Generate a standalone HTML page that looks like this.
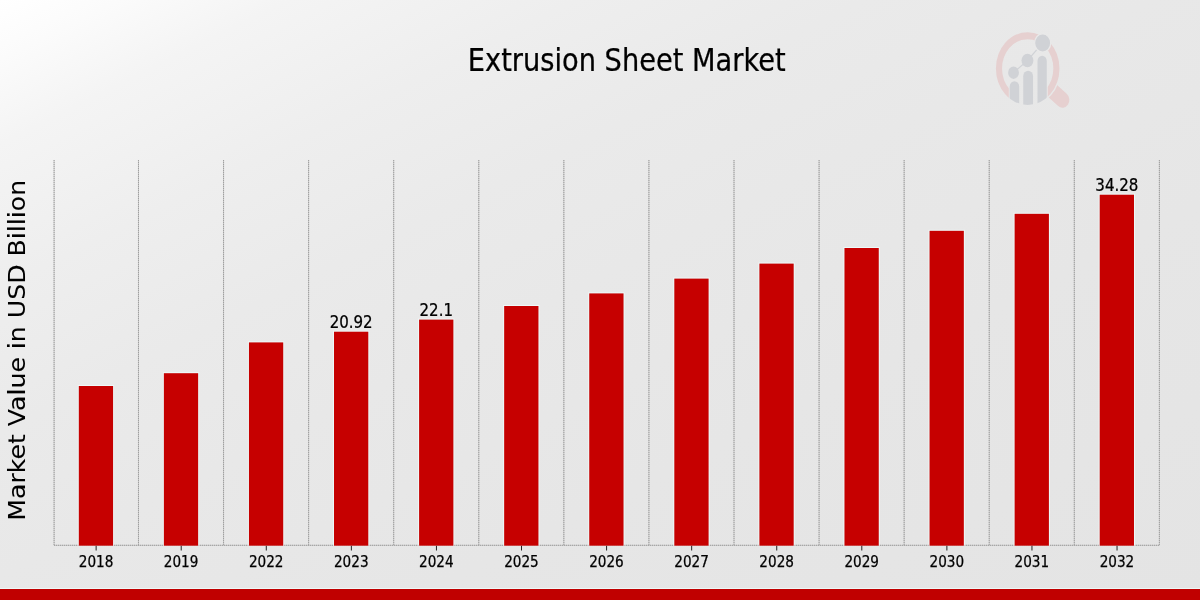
<!DOCTYPE html>
<html><head><meta charset="utf-8"><title>Extrusion Sheet Market</title>
<style>
html,body{margin:0;padding:0;}
body{width:1200px;height:600px;overflow:hidden;background:#e8e8e8;}
svg{display:block;}
text{font-family:"DejaVu Sans Condensed","DejaVu Sans","Liberation Sans",sans-serif;fill:#000;stroke:#000;stroke-width:0.25px;}
.yl{font-family:"DejaVu Sans","Liberation Sans",sans-serif;stroke-width:0.05px;}
</style></head><body>
<svg width="1200" height="600" viewBox="0 0 1200 600">
<defs>
<linearGradient id="bg" x1="0" y1="0" x2="1" y2="1">
<stop offset="0" stop-color="#ffffff"/>
<stop offset="0.05" stop-color="#fbfbfb"/>
<stop offset="0.12" stop-color="#f4f4f4"/>
<stop offset="0.24" stop-color="#eeeeee"/>
<stop offset="0.36" stop-color="#eaeaea"/>
<stop offset="0.48" stop-color="#e8e8e8"/>
<stop offset="0.67" stop-color="#e6e6e6"/>
<stop offset="1" stop-color="#e4e4e4"/>
</linearGradient>
</defs>
<rect x="0" y="0" width="1200" height="600" fill="url(#bg)"/>

<line x1="54.10" y1="160" x2="54.10" y2="545.3" stroke="#c4c4c4" stroke-width="1"/>
<line x1="54.10" y1="160" x2="54.10" y2="545.3" stroke="#9e9e9e" stroke-width="1" stroke-dasharray="1 1"/>
<line x1="138.47" y1="160" x2="138.47" y2="545.3" stroke="#c4c4c4" stroke-width="1"/>
<line x1="138.47" y1="160" x2="138.47" y2="545.3" stroke="#9e9e9e" stroke-width="1" stroke-dasharray="1 1"/>
<line x1="223.55" y1="160" x2="223.55" y2="545.3" stroke="#c4c4c4" stroke-width="1"/>
<line x1="223.55" y1="160" x2="223.55" y2="545.3" stroke="#9e9e9e" stroke-width="1" stroke-dasharray="1 1"/>
<line x1="308.62" y1="160" x2="308.62" y2="545.3" stroke="#c4c4c4" stroke-width="1"/>
<line x1="308.62" y1="160" x2="308.62" y2="545.3" stroke="#9e9e9e" stroke-width="1" stroke-dasharray="1 1"/>
<line x1="393.70" y1="160" x2="393.70" y2="545.3" stroke="#c4c4c4" stroke-width="1"/>
<line x1="393.70" y1="160" x2="393.70" y2="545.3" stroke="#9e9e9e" stroke-width="1" stroke-dasharray="1 1"/>
<line x1="478.77" y1="160" x2="478.77" y2="545.3" stroke="#c4c4c4" stroke-width="1"/>
<line x1="478.77" y1="160" x2="478.77" y2="545.3" stroke="#9e9e9e" stroke-width="1" stroke-dasharray="1 1"/>
<line x1="563.85" y1="160" x2="563.85" y2="545.3" stroke="#c4c4c4" stroke-width="1"/>
<line x1="563.85" y1="160" x2="563.85" y2="545.3" stroke="#9e9e9e" stroke-width="1" stroke-dasharray="1 1"/>
<line x1="648.92" y1="160" x2="648.92" y2="545.3" stroke="#c4c4c4" stroke-width="1"/>
<line x1="648.92" y1="160" x2="648.92" y2="545.3" stroke="#9e9e9e" stroke-width="1" stroke-dasharray="1 1"/>
<line x1="734.00" y1="160" x2="734.00" y2="545.3" stroke="#c4c4c4" stroke-width="1"/>
<line x1="734.00" y1="160" x2="734.00" y2="545.3" stroke="#9e9e9e" stroke-width="1" stroke-dasharray="1 1"/>
<line x1="819.08" y1="160" x2="819.08" y2="545.3" stroke="#c4c4c4" stroke-width="1"/>
<line x1="819.08" y1="160" x2="819.08" y2="545.3" stroke="#9e9e9e" stroke-width="1" stroke-dasharray="1 1"/>
<line x1="904.15" y1="160" x2="904.15" y2="545.3" stroke="#c4c4c4" stroke-width="1"/>
<line x1="904.15" y1="160" x2="904.15" y2="545.3" stroke="#9e9e9e" stroke-width="1" stroke-dasharray="1 1"/>
<line x1="989.23" y1="160" x2="989.23" y2="545.3" stroke="#c4c4c4" stroke-width="1"/>
<line x1="989.23" y1="160" x2="989.23" y2="545.3" stroke="#9e9e9e" stroke-width="1" stroke-dasharray="1 1"/>
<line x1="1074.30" y1="160" x2="1074.30" y2="545.3" stroke="#c4c4c4" stroke-width="1"/>
<line x1="1074.30" y1="160" x2="1074.30" y2="545.3" stroke="#9e9e9e" stroke-width="1" stroke-dasharray="1 1"/>
<line x1="1159.38" y1="160" x2="1159.38" y2="545.3" stroke="#c4c4c4" stroke-width="1"/>
<line x1="1159.38" y1="160" x2="1159.38" y2="545.3" stroke="#9e9e9e" stroke-width="1" stroke-dasharray="1 1"/>
<line x1="54" y1="545.3" x2="1159.38" y2="545.3" stroke="#c4c4c4" stroke-width="1"/>
<line x1="54" y1="545.3" x2="1159.38" y2="545.3" stroke="#9e9e9e" stroke-width="1" stroke-dasharray="1 1"/>
<rect x="77.79" y="385" width="36.3" height="160.70" fill="#f0fbfb" opacity="0.85"/>
<rect x="78.79" y="386" width="34.3" height="159.70" fill="#c60000"/>
<line x1="96.14" y1="545.8" x2="96.14" y2="550.5" stroke="#222" stroke-width="1"/>
<text transform="translate(96.04,567.30) scale(1,1)" font-size="15.1" text-anchor="middle">2018</text>
<rect x="162.86" y="372.2" width="36.3" height="173.50" fill="#f0fbfb" opacity="0.85"/>
<rect x="163.86" y="373.2" width="34.3" height="172.50" fill="#c60000"/>
<line x1="181.21" y1="545.8" x2="181.21" y2="550.5" stroke="#222" stroke-width="1"/>
<text transform="translate(181.11,567.30) scale(1,1)" font-size="15.1" text-anchor="middle">2019</text>
<rect x="247.94" y="341.4" width="36.3" height="204.30" fill="#f0fbfb" opacity="0.85"/>
<rect x="248.94" y="342.4" width="34.3" height="203.30" fill="#c60000"/>
<line x1="266.29" y1="545.8" x2="266.29" y2="550.5" stroke="#222" stroke-width="1"/>
<text transform="translate(266.19,567.30) scale(1,1)" font-size="15.1" text-anchor="middle">2022</text>
<rect x="333.01" y="330.7" width="36.3" height="215.00" fill="#f0fbfb" opacity="0.85"/>
<rect x="334.01" y="331.7" width="34.3" height="214.00" fill="#c60000"/>
<line x1="351.36" y1="545.8" x2="351.36" y2="550.5" stroke="#222" stroke-width="1"/>
<text transform="translate(351.26,567.30) scale(1,1)" font-size="15.1" text-anchor="middle">2023</text>
<text transform="translate(351.16,327.80) scale(0.955,1)" font-size="17.5" text-anchor="middle">20.92</text>
<rect x="418.09" y="318.6" width="36.3" height="227.10" fill="#f0fbfb" opacity="0.85"/>
<rect x="419.09" y="319.6" width="34.3" height="226.10" fill="#c60000"/>
<line x1="436.44" y1="545.8" x2="436.44" y2="550.5" stroke="#222" stroke-width="1"/>
<text transform="translate(436.34,567.30) scale(1,1)" font-size="15.1" text-anchor="middle">2024</text>
<text transform="translate(436.24,315.70) scale(0.955,1)" font-size="17.5" text-anchor="middle">22.1</text>
<rect x="503.16" y="305" width="36.3" height="240.70" fill="#f0fbfb" opacity="0.85"/>
<rect x="504.16" y="306" width="34.3" height="239.70" fill="#c60000"/>
<line x1="521.51" y1="545.8" x2="521.51" y2="550.5" stroke="#222" stroke-width="1"/>
<text transform="translate(521.41,567.30) scale(1,1)" font-size="15.1" text-anchor="middle">2025</text>
<rect x="588.24" y="292.4" width="36.3" height="253.30" fill="#f0fbfb" opacity="0.85"/>
<rect x="589.24" y="293.4" width="34.3" height="252.30" fill="#c60000"/>
<line x1="606.59" y1="545.8" x2="606.59" y2="550.5" stroke="#222" stroke-width="1"/>
<text transform="translate(606.49,567.30) scale(1,1)" font-size="15.1" text-anchor="middle">2026</text>
<rect x="673.31" y="277.6" width="36.3" height="268.10" fill="#f0fbfb" opacity="0.85"/>
<rect x="674.31" y="278.6" width="34.3" height="267.10" fill="#c60000"/>
<line x1="691.66" y1="545.8" x2="691.66" y2="550.5" stroke="#222" stroke-width="1"/>
<text transform="translate(691.56,567.30) scale(1,1)" font-size="15.1" text-anchor="middle">2027</text>
<rect x="758.39" y="262.6" width="36.3" height="283.10" fill="#f0fbfb" opacity="0.85"/>
<rect x="759.39" y="263.6" width="34.3" height="282.10" fill="#c60000"/>
<line x1="776.74" y1="545.8" x2="776.74" y2="550.5" stroke="#222" stroke-width="1"/>
<text transform="translate(776.64,567.30) scale(1,1)" font-size="15.1" text-anchor="middle">2028</text>
<rect x="843.46" y="247" width="36.3" height="298.70" fill="#f0fbfb" opacity="0.85"/>
<rect x="844.46" y="248" width="34.3" height="297.70" fill="#c60000"/>
<line x1="861.81" y1="545.8" x2="861.81" y2="550.5" stroke="#222" stroke-width="1"/>
<text transform="translate(861.71,567.30) scale(1,1)" font-size="15.1" text-anchor="middle">2029</text>
<rect x="928.54" y="229.8" width="36.3" height="315.90" fill="#f0fbfb" opacity="0.85"/>
<rect x="929.54" y="230.8" width="34.3" height="314.90" fill="#c60000"/>
<line x1="946.89" y1="545.8" x2="946.89" y2="550.5" stroke="#222" stroke-width="1"/>
<text transform="translate(946.79,567.30) scale(1,1)" font-size="15.1" text-anchor="middle">2030</text>
<rect x="1013.61" y="212.8" width="36.3" height="332.90" fill="#f0fbfb" opacity="0.85"/>
<rect x="1014.61" y="213.8" width="34.3" height="331.90" fill="#c60000"/>
<line x1="1031.96" y1="545.8" x2="1031.96" y2="550.5" stroke="#222" stroke-width="1"/>
<text transform="translate(1031.86,567.30) scale(1,1)" font-size="15.1" text-anchor="middle">2031</text>
<rect x="1098.69" y="193.7" width="36.3" height="352.00" fill="#f0fbfb" opacity="0.85"/>
<rect x="1099.69" y="194.7" width="34.3" height="351.00" fill="#c60000"/>
<line x1="1117.04" y1="545.8" x2="1117.04" y2="550.5" stroke="#222" stroke-width="1"/>
<text transform="translate(1116.94,567.30) scale(1,1)" font-size="15.1" text-anchor="middle">2032</text>
<text transform="translate(1116.84,190.80) scale(0.955,1)" font-size="17.5" text-anchor="middle">34.28</text>
<text transform="translate(626.70,70.50) scale(0.932,1)" font-size="32.5" text-anchor="middle">Extrusion Sheet Market</text>
<text class="yl" transform="translate(25.3,350.3) scale(0.937,1.007) rotate(-90)" font-size="25" text-anchor="middle">Market Value in USD Billion</text>
<rect x="0" y="588" width="1200" height="1" fill="#eefafa" opacity="0.85"/>
<rect x="0" y="589" width="1200" height="11" fill="#c00000"/>
<g transform="translate(1027.7,68.5) scale(0.875,1)">
<clipPath id="lc"><circle cx="0" cy="0" r="36.4"/></clipPath>
<clipPath id="rc"><path clip-rule="evenodd" d="M-100 -100 H100 V100 H-100 Z M-21.6 0 H22.9 V100 H-21.6 Z"/></clipPath>
<circle clip-path="url(#rc)" cx="0" cy="0" r="32.8" fill="none" stroke="#e6d0d0" stroke-width="7.0"/>
<clipPath id="hc"><path clip-rule="evenodd" d="M-100 -100 H100 V100 H-100 Z M37.9 0 A37.9 37.9 0 1 0 -37.9 0 A37.9 37.9 0 1 0 37.9 0 Z"/></clipPath>
<path clip-path="url(#hc)" d="M21.97 17.35 L39.71 31.36" fill="none" stroke="#e6d0d0" stroke-width="15.8" stroke-linecap="round"/>
<g clip-path="url(#lc)">
<path d="M-20.60 40 L-20.60 18.15 A5.45 5.45 0 0 1 -9.70 18.15 L-9.70 40 Z" fill="#d0d2d6"/>
<path d="M-5.10 40 L-5.10 7.80 A5.60 5.60 0 0 1 6.10 7.80 L6.10 40 Z" fill="#d0d2d6"/>
<path d="M11.20 40 L11.20 -7.50 A5.30 5.30 0 0 1 21.80 -7.50 L21.80 40 Z" fill="#d0d2d6"/>
</g>
<path d="M-16.2 4.2 L-0.3 -8 L17.1 -25.5" fill="none" stroke="#d0d2d6" stroke-width="1.2"/>
<circle cx="-16.2" cy="4.2" r="6.2" fill="#d0d2d6"/>
<circle cx="-0.3" cy="-8" r="6.8" fill="#d0d2d6"/>
<circle cx="17.1" cy="-25.5" r="9.2" fill="#d0d2d6" stroke="#e9e9e9" stroke-width="1.4"/>
</g>
</svg></body></html>
